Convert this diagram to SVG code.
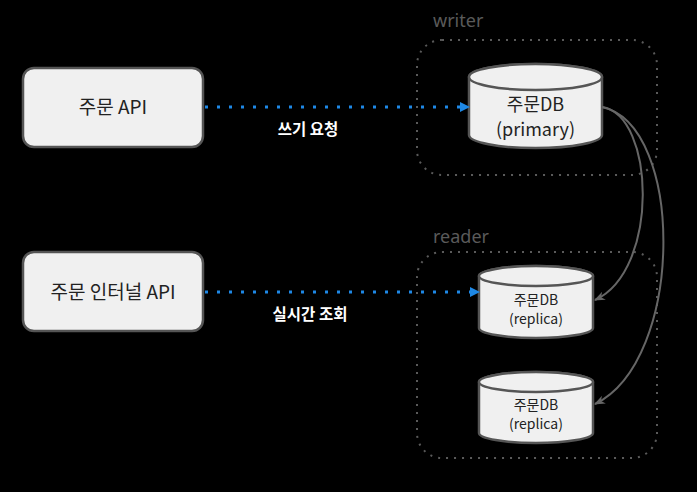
<svg xmlns="http://www.w3.org/2000/svg" width="697" height="492" viewBox="0 0 697 492">
<style>
.bg{fill:#000}
.grp{fill:none;stroke:#5a5a5a;stroke-width:2;stroke-dasharray:2 6}
.glabel{font-family:"Noto Sans","Noto Sans CJK KR",sans-serif;font-size:18px;fill:#5a5a5a}
.box{fill:#f0f0f0;stroke:#555;stroke-width:2.5}
.t{font-family:"Noto Sans CJK KR","Noto Sans",sans-serif;fill:#222;text-anchor:middle}
.lbl{font-family:"Noto Sans CJK KR",sans-serif;font-size:15.5px;font-weight:bold;fill:#fff;text-anchor:middle}
.blue{fill:none;stroke:#1e88e5;stroke-width:3;stroke-dasharray:3 9}
.gray{fill:none;stroke:#666;stroke-width:2}
</style>
<defs>
<marker id="ab" viewBox="0 0 10 10" refX="9" refY="5" markerWidth="10" markerHeight="10" markerUnits="userSpaceOnUse" orient="auto"><path d="M0,0 L10,5 L0,10 z" fill="#1e88e5"/></marker>
<marker id="ag" viewBox="0 0 10 10" refX="9" refY="5" markerWidth="11" markerHeight="11" markerUnits="userSpaceOnUse" orient="auto"><path d="M0,1 L10,5 L0,9 L3,5 z" fill="#666"/></marker>
</defs>
<rect class="bg" width="697" height="492"/>
<g id="writer">
<rect class="grp" x="417" y="40" width="240" height="135" rx="25"/>
<text class="glabel" x="433" y="27">writer</text>
</g>
<g id="reader">
<rect class="grp" x="417" y="252" width="240" height="206" rx="25"/>
<text class="glabel" x="433" y="243">reader</text>
</g>
<g id="order-api">
<rect class="box" x="23" y="68" width="180" height="79" rx="11"/>
<text class="t" x="113" y="114" font-size="19">주문 API</text>
</g>
<g id="order-internal-api">
<rect class="box" x="23" y="252" width="180" height="79" rx="11"/>
<text class="t" x="113" y="299" font-size="19">주문 인터널 API</text>
</g>
<g id="db-primary">
<path class="box" d="M469,77 L469,135 A66,13 0 0 0 602,135 L602,77 A66,13 0 0 0 469,77 z"/>
<ellipse class="box" cx="535.5" cy="77" rx="66.5" ry="13"/>
<text class="t" x="535.5" y="111" font-size="18"><tspan x="535.5">주문DB</tspan><tspan x="535.5" dy="24.5">(primary)</tspan></text>
</g>
<g id="db-replica-1">
<path class="box" d="M479,276 L479,328 A57,10 0 0 0 593,328 L593,276 A57,10 0 0 0 479,276 z"/>
<ellipse class="box" cx="536" cy="276" rx="57" ry="10"/>
<text class="t" x="536" y="305" font-size="14"><tspan x="536">주문DB</tspan><tspan x="536" dy="19">(replica)</tspan></text>
</g>
<g id="db-replica-2">
<path class="box" d="M479,382 L479,433 A57,10 0 0 0 593,433 L593,382 A57,10 0 0 0 479,382 z"/>
<ellipse class="box" cx="536" cy="382" rx="57" ry="10"/>
<text class="t" x="536" y="410" font-size="14"><tspan x="536">주문DB</tspan><tspan x="536" dy="19">(replica)</tspan></text>
</g>
<g id="connectors">
<path class="blue" d="M205,107 L469,107" marker-end="url(#ab)"/>
<text class="lbl" x="308" y="135">쓰기 요청</text>
<path class="blue" d="M205,292 L479,292" marker-end="url(#ab)"/>
<text class="lbl" x="310" y="320">실시간 조회</text>
<path class="gray" d="M602,107 C655,115 660,270 595,300" marker-end="url(#ag)"/>
<path class="gray" d="M602,107 C685,125 685,360 595,404" marker-end="url(#ag)"/>
</g>
</svg>
